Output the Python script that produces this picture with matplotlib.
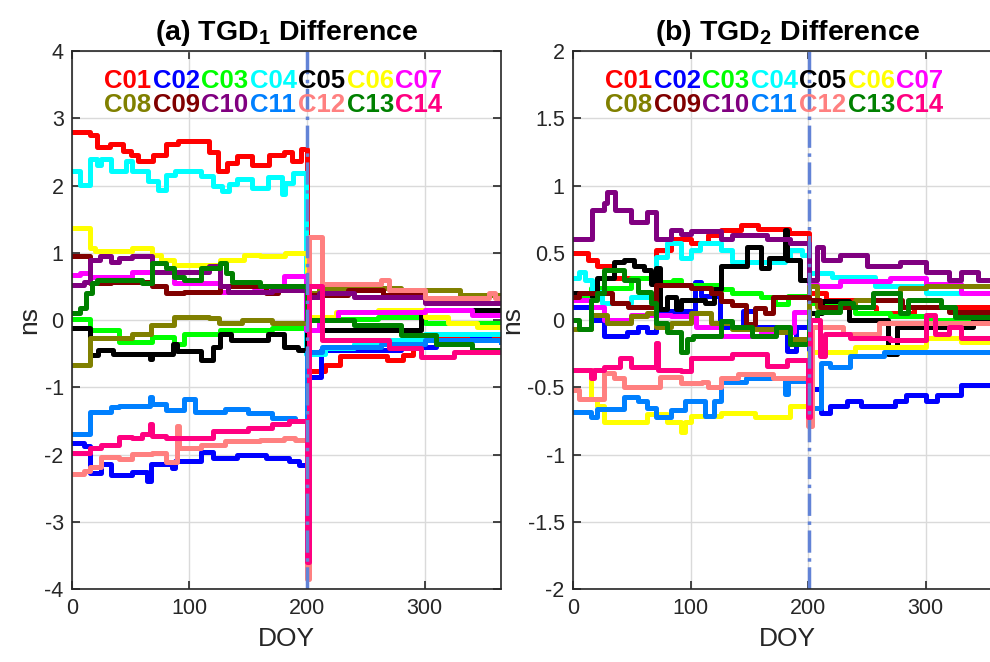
import matplotlib
matplotlib.use("Agg")
import matplotlib.pyplot as plt

plt.rcParams['font.family'] = ['Liberation Sans', 'DejaVu Sans']
plt.rcParams['axes.unicode_minus'] = False
plt.rcParams['mathtext.fontset'] = 'custom'
plt.rcParams['mathtext.rm'] = 'Liberation Sans'
plt.rcParams['mathtext.bf'] = 'Liberation Sans:bold'

# satellite names and colours
sats = ['C01', 'C02', 'C03', 'C04', 'C05', 'C06', 'C07',
        'C08', 'C09', 'C10', 'C11', 'C12', 'C13', 'C14']
colors = ['#ff0000', '#0000ff', '#00ff00', '#00ffff', '#000000', '#ffff00', '#ff00ff',
          '#808000', '#800000', '#800080', '#0080ff', '#ff8080', '#008000', '#ff0080']

# (DOY, ns) step knots, panel (a) TGD1
a_C01 = [(0, 2.80), (15, 2.75), (21, 2.57), (32, 2.62), (43, 2.51), (50, 2.45), (56, 2.36), (69, 2.46),
         (80, 2.62), (90, 2.66), (117, 2.50), (124, 2.22), (132, 2.34), (140, 2.44), (153, 2.31),
         (168, 2.46), (180, 2.50), (187, 2.36), (195, 2.54), (200, -0.75), (215, -0.67), (228, -0.53),
         (268, -0.60), (282, -0.52), (290, -0.25), (365, -0.25)]
a_C02 = [(0, -1.82), (10, -1.87), (15, -2.28), (25, -2.14), (33, -2.30), (51, -2.26), (64, -2.39),
         (67, -2.14), (85, -2.20), (88, -2.09), (110, -1.96), (120, -2.05), (140, -2.00), (165, -2.05),
         (185, -2.10), (193, -2.15), (200, -0.85), (212, -0.45), (240, -0.45), (280, -0.40),
         (310, -0.30), (340, -0.25), (355, -0.20), (365, -0.20)]
a_C03 = [(0, 0.02), (15, -0.15), (40, -0.32), (68, -0.25), (87, -0.35), (95, -0.20), (126, -0.15),
         (170, -0.12), (200, 0.05), (225, 0.02), (260, 0.05), (300, -0.05), (365, -0.05)]
a_C04 = [(0, 2.21), (7, 2.01), (15, 2.39), (21, 2.31), (25, 2.39), (33, 2.21), (46, 2.36), (51, 2.21),
         (65, 2.06), (73, 1.94), (80, 2.16), (88, 2.21), (110, 2.14), (120, 1.99), (128, 1.92),
         (134, 2.02), (140, 2.09), (153, 1.97), (167, 2.12), (179, 1.87), (181, 2.04), (188, 2.19),
         (199, -0.50), (215, -0.42), (240, -0.35), (270, -0.30), (300, -0.20), (365, -0.20)]
a_C05 = [(0, -0.12), (15, -0.52), (22, -0.45), (35, -0.50), (66, -0.58), (68, -0.50), (86, -0.35),
         (89, -0.46), (110, -0.60), (120, -0.40), (126, -0.20), (135, -0.30), (167, -0.20),
         (180, -0.40), (192, -0.45), (200, -0.15), (226, -0.15), (297, 0.15), (365, 0.15)]
a_C06 = [(0, 1.37), (15, 1.07), (20, 1.02), (51, 1.07), (68, 0.97), (76, 0.90), (87, 0.82), (126, 0.90),
         (146, 0.97), (160, 0.95), (181, 1.00), (200, 0.05), (225, 0.12), (260, 0.15), (300, 0.05),
         (320, -0.05), (345, -0.10), (365, -0.10)]
a_C07 = [(0, 0.67), (7, 0.70), (15, 0.64), (51, 0.72), (87, 0.55), (126, 0.42), (155, 0.45),
         (180, 0.65), (199, -0.15), (210, 0.00), (226, 0.12), (300, 0.15), (340, 0.08), (365, 0.08)]
a_C08 = [(0, -0.67), (15, -0.27), (51, -0.20), (67, -0.07), (87, 0.05), (117, 0.03), (125, -0.05),
         (145, 0.00), (170, -0.05), (200, 0.40), (210, 0.47), (280, 0.45), (330, 0.38), (365, 0.36)]
a_C09 = [(0, 0.95), (15, 0.55), (33, 0.57), (68, 0.50), (80, 0.40), (95, 0.41), (117, 0.42),
         (126, 0.50), (165, 0.40), (175, 0.50), (200, 0.37), (235, 0.45), (265, 0.37), (300, 0.32),
         (340, 0.25), (365, 0.25)]
a_C10 = [(0, 0.52), (10, 0.57), (15, 0.90), (24, 0.95), (33, 0.87), (40, 0.92), (51, 0.95), (68, 0.72),
         (117, 0.80), (126, 0.50), (133, 0.42), (170, 0.45), (200, 0.35), (210, 0.40), (240, 0.35),
         (300, 0.25), (365, 0.25)]
a_C11 = [(0, -1.69), (15, -1.37), (33, -1.29), (40, -1.27), (66, -1.14), (68, -1.25), (80, -1.33),
         (95, -1.18), (105, -1.36), (130, -1.32), (150, -1.38), (170, -1.45), (190, -1.50),
         (200, -0.47), (213, -0.40), (263, -0.35), (300, -0.30), (365, -0.33)]
a_C12 = [(0, -2.29), (10, -2.24), (15, -2.19), (25, -2.04), (40, -2.07), (51, -1.99), (68, -1.97),
         (80, -2.11), (89, -1.57), (91, -1.90), (110, -1.85), (130, -1.80), (160, -1.78), (180, -1.75),
         (190, -1.78), (200, -3.85), (202, 1.24), (213, 0.53), (263, 0.60), (270, 0.45), (300, 0.33),
         (355, 0.40), (360, 0.33), (365, 0.33)]
a_C13 = [(0, 0.11), (7, 0.18), (12, 0.40), (17, 0.55), (21, 0.60), (60, 0.55), (68, 0.85), (80, 0.78),
         (87, 0.64), (95, 0.60), (110, 0.78), (126, 0.85), (131, 0.70), (136, 0.57), (160, 0.50),
         (200, 0.00), (240, -0.07), (280, -0.22), (310, -0.35), (340, -0.45), (365, -0.45)]
a_C14 = [(0, -1.97), (15, -1.90), (25, -1.85), (40, -1.74), (51, -1.76), (60, -1.69), (66, -1.54),
         (68, -1.72), (80, -1.75), (120, -1.65), (150, -1.60), (170, -1.55), (185, -1.50),
         (200, -3.60), (201.5, 0.50), (213, -0.30), (270, -0.42), (297, -0.55), (325, -0.47), (365, -0.47)]

# panel (b) TGD2
b_C01 = [(0, 0.50), (13, 0.45), (20, 0.40), (35, 0.31), (71, 0.52), (83, 0.60), (100, 0.57), (115, 0.63),
         (126, 0.67), (143, 0.71), (157, 0.68), (184, 0.65), (201, 0.20), (215, 0.15), (240, 0.10),
         (258, 0.05), (290, 0.10), (365, 0.10)]
b_C02 = [(0, 0.10), (15, 0.00), (26, -0.12), (46, -0.09), (55, -0.05), (63, -0.09), (71, 0.07),
         (104, 0.28), (109, 0.18), (125, -0.05), (145, 0.07), (155, -0.05), (182, -0.23), (190, -0.05),
         (201, -0.51), (211, -0.69), (219, -0.64), (233, -0.60), (245, -0.64), (274, -0.60),
         (283, -0.56), (300, -0.60), (310, -0.56), (330, -0.48), (365, -0.48)]
b_C03 = [(0, 0.18), (15, 0.24), (49, 0.31), (69, 0.28), (85, 0.30), (92, 0.26), (126, 0.23), (135, 0.20),
         (160, 0.17), (172, 0.12), (183, 0.18), (201, 0.13), (240, 0.05), (270, 0.03), (300, 0.00),
         (365, 0.00)]
b_C04 = [(0, 0.31), (5, 0.36), (10, 0.30), (16, 0.21), (25, 0.13), (49, 0.17), (71, 0.47), (80, 0.57),
         (92, 0.46), (100, 0.52), (108, 0.57), (126, 0.52), (135, 0.43), (180, 0.45), (185, 0.52),
         (195, 0.48), (201, 0.35), (220, 0.32), (257, 0.25), (300, 0.20), (365, 0.20)]
b_C05 = [(0, 0.20), (16, 0.17), (20, 0.31), (35, 0.43), (43, 0.45), (52, 0.40), (60, 0.37), (66, 0.27),
         (71, 0.39), (74, 0.08), (80, 0.17), (88, 0.08), (92, 0.15), (112, 0.13), (120, 0.23),
         (126, 0.40), (148, 0.54), (160, 0.39), (167, 0.46), (180, 0.67), (182, 0.45), (193, 0.30),
         (201, 0.05), (212, 0.14), (235, 0.00), (268, -0.25), (276, -0.05), (340, 0.00), (365, 0.00)]
b_C06 = [(0, -0.37), (15, -0.59), (20, -0.64), (26, -0.76), (63, -0.70), (80, -0.76), (92, -0.83),
         (95, -0.76), (100, -0.71), (126, -0.69), (155, -0.72), (185, -0.64), (201, -0.24),
         (240, -0.20), (300, -0.13), (330, -0.16), (365, -0.16)]
b_C07 = [(0, 0.15), (15, 0.10), (26, 0.00), (49, 0.04), (83, 0.03), (105, -0.05), (126, -0.12),
         (160, -0.09), (188, 0.06), (201, 0.27), (208, 0.25), (227, 0.29), (270, 0.31), (300, 0.27),
         (330, 0.20), (365, 0.18)]
b_C08 = [(0, -0.07), (15, 0.04), (29, -0.02), (49, 0.03), (63, 0.05), (71, -0.05), (83, -0.02),
         (100, 0.05), (117, -0.02), (135, -0.07), (175, -0.09), (185, -0.14), (201, 0.25), (208, 0.10),
         (240, 0.15), (278, 0.24), (300, 0.25), (365, 0.25)]
b_C09 = [(0, 0.17), (5, 0.20), (33, 0.13), (47, 0.10), (71, 0.26), (100, 0.24), (117, 0.20), (126, 0.14),
         (135, 0.11), (147, -0.03), (155, 0.09), (163, 0.05), (170, 0.17), (201, 0.15), (210, 0.10),
         (255, 0.15), (280, 0.10), (320, 0.06), (365, 0.06)]
b_C10 = [(0, 0.60), (16, 0.82), (26, 0.87), (29, 0.95), (36, 0.82), (49, 0.73), (63, 0.80), (71, 0.60),
         (83, 0.67), (92, 0.64), (100, 0.66), (126, 0.60), (135, 0.63), (165, 0.60), (185, 0.57),
         (201, 0.30), (208, 0.54), (213, 0.45), (227, 0.48), (250, 0.40), (278, 0.43), (300, 0.36),
         (320, 0.30), (330, 0.36), (345, 0.30), (365, 0.30)]
b_C11 = [(0, -0.68), (15, -0.72), (20, -0.66), (43, -0.57), (55, -0.60), (63, -0.65), (71, -0.72),
         (83, -0.67), (95, -0.60), (112, -0.71), (120, -0.60), (126, -0.46), (147, -0.43), (180, -0.55),
         (183, -0.45), (201, -0.65), (211, -0.32), (219, -0.35), (236, -0.27), (265, -0.24), (365, -0.25)]
b_C12 = [(0, -0.52), (5, -0.59), (26, -0.39), (35, -0.43), (43, -0.50), (74, -0.42), (92, -0.47),
         (110, -0.46), (115, -0.50), (126, -0.43), (140, -0.40), (170, -0.43), (200, -0.79),
         (203, -0.05), (230, -0.10), (260, -0.02), (365, -0.02)]
b_C13 = [(0, 0.00), (5, -0.07), (15, 0.15), (20, 0.20), (26, 0.37), (43, 0.30), (55, 0.21), (66, 0.13),
         (71, -0.02), (80, -0.09), (92, -0.24), (97, -0.14), (102, -0.12), (126, -0.01), (135, -0.05),
         (152, -0.12), (173, -0.05), (185, -0.18), (201, 0.00), (208, 0.06), (227, 0.13), (238, 0.10),
         (255, 0.20), (278, 0.05), (285, 0.15), (313, 0.10), (325, 0.02), (365, 0.02)]
b_C14 = [(0, -0.37), (15, -0.43), (18, -0.37), (26, -0.35), (40, -0.28), (49, -0.35), (71, -0.17),
         (72, -0.37), (92, -0.38), (100, -0.28), (135, -0.25), (165, -0.34), (182, -0.30),
         (200, -0.72), (201.5, 0.00), (210, -0.27), (214, -0.10), (236, -0.13), (270, -0.15),
         (300, 0.04), (308, -0.10), (320, -0.05), (330, -0.13), (365, -0.13)]

panel_a = [a_C01, a_C02, a_C03, a_C04, a_C05, a_C06, a_C07, a_C08, a_C09, a_C10, a_C11, a_C12, a_C13, a_C14]
panel_b = [b_C01, b_C02, b_C03, b_C04, b_C05, b_C06, b_C07, b_C08, b_C09, b_C10, b_C11, b_C12, b_C13, b_C14]

a_yticks = [-4, -3, -2, -1, 0, 1, 2, 3, 4]
b_yticks = [-2, -1.5, -1, -0.5, 0, 0.5, 1, 1.5, 2]
xticks = [0, 100, 200, 300]


def draw_panel(ax, series, title, yticks, switch_day):
    for knots, col in zip(series, colors):
        days = [k[0] for k in knots]
        vals = [k[1] for k in knots]
        ax.plot(days, vals, drawstyle='steps-post', color=col, lw=3.6)
    # BDS-3 switch day
    ax.axvline(switch_day, color='#6283d6', lw=2.5, ls='-.')

    ax.set_xlim(0, 365)
    ax.set_ylim(yticks[0], yticks[-1])
    ax.set_xticks(xticks)
    ax.set_yticks(yticks)
    ax.set_yticklabels([f'{v:g}' for v in yticks])
    ax.grid(True, color='#dadada', lw=1)
    ax.set_axisbelow(True)
    ax.tick_params(direction='in', top=True, right=True, length=6, width=1.2,
                   labelsize=15.5, colors='#262626', pad=6)
    for s in ax.spines.values():
        s.set_color('#262626')
        s.set_linewidth(1.2)
    ax.set_xlabel('DOY', fontsize=19, color='#262626', labelpad=6)
    ax.set_ylabel('ns', fontsize=19, color='#262626', labelpad=2)
    ax.set_title(title, fontsize=20.5, fontweight='bold', pad=8)

    # coloured name "legend" in two rows
    for i, (name, col) in enumerate(zip(sats, colors)):
        row, colidx = divmod(i, 7)
        ax.text(0.075 + colidx * 0.113, 0.944 - row * 0.044, name, color=col,
                fontsize=18.5, fontweight='bold', ha='left', va='center',
                transform=ax.transAxes)


fig = plt.figure(figsize=(9.9, 6.62), dpi=100)
ax1 = fig.add_axes([0.0727, 0.110, 0.4333, 0.813])
ax2 = fig.add_axes([0.5788, 0.110, 0.4333, 0.813])

draw_panel(ax1, panel_a, r'(a) TGD$_\mathbf{1}$ Difference', a_yticks, 200)
draw_panel(ax2, panel_b, r'(b) TGD$_\mathbf{2}$ Difference', b_yticks, 201)

fig.savefig('out.png', dpi=100)
